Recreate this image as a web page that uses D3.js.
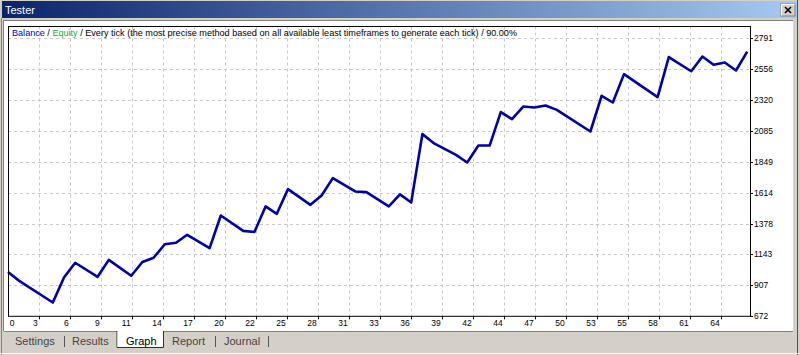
<!DOCTYPE html>
<html>
<head>
<meta charset="utf-8">
<script src="https://cdn.jsdelivr.net/npm/d3@7"></script>
<style>
	body { margin: 0; background: #d4d0c8; overflow: hidden; }
	svg { display: block; font-family: "Liberation Sans", Arial, sans-serif; }
</style>
</head>
<body>
<svg id="chart" width="800" height="355"></svg>
<script>
// trade number -> balance, read at the turning points of the curve
const tradeIdx = [0, 1, 4, 5, 6, 8, 9, 11, 12, 13, 14, 15, 16, 18, 19, 21, 22, 23, 24, 25,
	27, 28, 29, 31, 32, 34, 35, 36, 37, 38, 40, 41, 42, 43, 44, 45, 46, 47, 48, 49,
	52, 53, 54, 55, 58, 59, 61, 62, 63, 64, 65, 66];
const balance = [1009, 942, 777, 968, 1080, 973, 1102, 981, 1086, 1118, 1221, 1232, 1293, 1192, 1440, 1323, 1314, 1509, 1453, 1641,
	1521, 1592, 1725, 1623, 1618, 1509, 1601, 1539, 2060, 1992, 1902, 1844, 1973, 1973, 2228, 2174, 2270, 2263, 2278, 2245,
	2080, 2352, 2301, 2517, 2342, 2647, 2539, 2651, 2588, 2606, 2545, 2689];

const yTicks = [672, 907, 1143, 1378, 1614, 1849, 2085, 2320, 2556, 2791];
const xTickLabels = ['0', '3', '6', '9', '11', '14', '17', '20', '22', '25', '28', '31', '33',
	'36', '39', '42', '44', '47', '50', '53', '55', '58', '61', '64'];
const tabLabels = ['Settings', 'Results', 'Graph', 'Report', 'Journal'];
const activeTab = 'Graph';

const legendParts = [
	{ text: 'Balance', color: '#0000c8' },
	{ text: ' / ', color: '#000' },
	{ text: 'Equity', color: '#1fae1f' },
	{ text: ' / Every tick (the most precise method based on all available least timeframes to generate each tick) / 90.00%', color: '#000' }
];

const svg = d3.select('#chart');

const plot = { left: 8, right: 750, top: 26.5, bottom: 316.3 };

const x = d3.scaleLinear().domain([0, 66.25]).range([plot.left, plot.right]);
const y = d3.scaleLinear().domain([672, 2880]).range([plot.bottom, plot.top]);
const col = d3.scaleLinear().domain([0, 24]).range([7.7, 751.7]);

//---- window chrome ----
const grad = svg.append('defs').append('linearGradient')
	.attr('id', 'titleGrad');
grad.append('stop').attr('offset', '0%').attr('stop-color', '#0a246a');
grad.append('stop').attr('offset', '100%').attr('stop-color', '#a6caf0');

svg.append('rect')
	.attr('x', 0).attr('y', 0).attr('width', 800).attr('height', 355)
	.attr('fill', '#d4d0c8');

svg.append('rect')
	.attr('x', 2).attr('y', 1).attr('width', 795).attr('height', 17)
	.attr('fill', 'url(#titleGrad)');

svg.append('text')
	.attr('x', 5).attr('y', 13.5)
	.attr('fill', '#fff')
	.style('font-size', '11px')
	.text('Tester');

// close button
const btn = svg.append('g').attr('transform', 'translate(781, 4)');
btn.append('rect').attr('width', 14).attr('height', 12).attr('fill', '#d4d0c8')
	.attr('stroke', '#808080');
btn.append('path').attr('d', 'M0.5,11.5V0.5H13.5').attr('fill', 'none').attr('stroke', '#fff');
btn.append('path').attr('d', 'M4,3L10,9M10,3L4,9').attr('stroke', '#000').attr('stroke-width', 1.6);

svg.append('line')
	.attr('x1', 797.5).attr('x2', 797.5).attr('y1', 0).attr('y2', 355)
	.attr('stroke', '#5a4a48');

// white chart panel
svg.append('rect')
	.attr('x', 4).attr('y', 21).attr('width', 789).attr('height', 310)
	.attr('fill', '#fff');
svg.append('path')
	.attr('d', 'M3.5,331V20.5H793')
	.attr('fill', 'none').attr('stroke', '#808080');
svg.append('line')
	.attr('x1', 1.5).attr('x2', 1.5).attr('y1', 18).attr('y2', 355)
	.attr('stroke', '#808080');

//---- grid ----
const grid = svg.append('g')
	.attr('stroke', '#c8c8c8')
	.attr('stroke-dasharray', '3,3');

grid.selectAll('.vgrid')
	.data(xTickLabels.slice(1))
	.enter().append('line')
	.attr('class', 'vgrid')
	.attr('x1', (d, i) => Math.round(col(i + 1)) + 0.5)
	.attr('x2', (d, i) => Math.round(col(i + 1)) + 0.5)
	.attr('y1', plot.top)
	.attr('y2', plot.bottom);

grid.selectAll('.hgrid')
	.data(yTicks.slice(1))
	.enter().append('line')
	.attr('class', 'hgrid')
	.attr('x1', plot.left)
	.attr('x2', plot.right)
	.attr('y1', d => Math.round(y(d)) + 0.5)
	.attr('y2', d => Math.round(y(d)) + 0.5);

//---- balance line ----
const pts = tradeIdx.map((t, i) => [t, balance[i]]);

const line = d3.line()
	.x(d => x(d[0]))
	.y(d => y(d[1]));

svg.append('path')
	.datum(pts)
	.attr('fill', 'none')
	.attr('stroke', '#0000a8')
	.attr('stroke-width', 2.6)
	.attr('stroke-linejoin', 'round')
	.attr('d', line);

//---- frame and axes ----
svg.append('rect')
	.attr('x', plot.left + 0.5).attr('y', plot.top)
	.attr('width', plot.right - plot.left).attr('height', plot.bottom - plot.top)
	.attr('fill', 'none')
	.attr('stroke', '#000');

const yAxis = svg.append('g');
yAxis.selectAll('line')
	.data(yTicks)
	.enter().append('line')
	.attr('x1', plot.right).attr('x2', plot.right + 3)
	.attr('y1', d => Math.round(y(d)) + 0.5)
	.attr('y2', d => Math.round(y(d)) + 0.5)
	.attr('stroke', '#000');
yAxis.selectAll('text')
	.data(yTicks)
	.enter().append('text')
	.attr('x', plot.right + 4)
	.attr('y', d => y(d) + 3)
	.style('font-size', '8.5px')
	.text(d => d);

const xAxis = svg.append('g');
xAxis.selectAll('line')
	.data(xTickLabels.slice(1))
	.enter().append('line')
	.attr('x1', (d, i) => Math.round(col(i + 1)) + 0.5)
	.attr('x2', (d, i) => Math.round(col(i + 1)) + 0.5)
	.attr('y1', plot.bottom)
	.attr('y2', plot.bottom + 3)
	.attr('stroke', '#000');
xAxis.selectAll('text')
	.data(xTickLabels)
	.enter().append('text')
	.attr('x', (d, i) => i === 0 ? col(0) + 2 : col(i) - 1)
	.attr('y', 326)
	.attr('text-anchor', (d, i) => i === 0 ? 'start' : 'end')
	.style('font-size', '8.5px')
	.text(d => d);

//---- legend ----
const legend = svg.append('text')
	.attr('x', 12).attr('y', 36)
	.style('font-size', '8.6px')
	.attr('textLength', 505)
	.attr('lengthAdjust', 'spacingAndGlyphs');
legend.selectAll('tspan')
	.data(legendParts)
	.enter().append('tspan')
	.attr('fill', d => d.color)
	.style('white-space', 'pre')
	.text(d => d.text);

//---- tabs ----
const tabX = [15, 72, 126, 172, 224];
const sepX = [64, 215, 268];

svg.append('line')
	.attr('x1', 4).attr('x2', 793).attr('y1', 331.5).attr('y2', 331.5)
	.attr('stroke', '#808080');

svg.append('path')
	.attr('d', 'M117,331V347.5H163.5V331')
	.attr('fill', '#fff')
	.attr('stroke', '#303030');
svg.append('rect')
	.attr('x', 117.5).attr('y', 330).attr('width', 45.5).attr('height', 17)
	.attr('fill', '#fff');

svg.selectAll('.tab')
	.data(tabLabels)
	.enter().append('text')
	.attr('class', 'tab')
	.attr('x', (d, i) => tabX[i])
	.attr('y', 345)
	.attr('fill', d => d === activeTab ? '#000' : '#444')
	.style('font-size', '11px')
	.text(d => d);

svg.selectAll('.sep')
	.data(sepX)
	.enter().append('line')
	.attr('class', 'sep')
	.attr('x1', d => d + 0.5).attr('x2', d => d + 0.5)
	.attr('y1', 336).attr('y2', 347)
	.attr('stroke', '#555');

svg.append('line')
	.attr('x1', 0).attr('x2', 800).attr('y1', 353.5).attr('y2', 353.5)
	.attr('stroke', '#fff');
</script>
</body>
</html>
